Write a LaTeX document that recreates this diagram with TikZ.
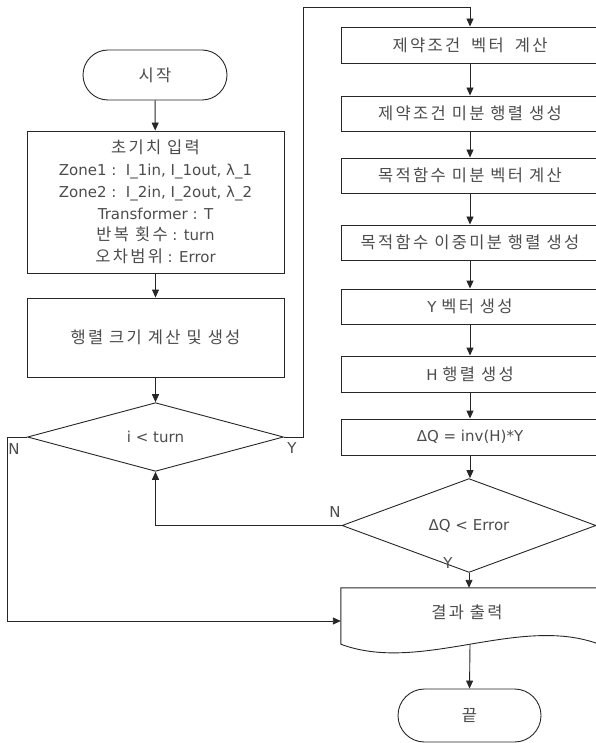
\documentclass[tikz,border=0pt]{standalone}
\usepackage{fontspec}
\setmainfont{DejaVu Sans}
\newfontfamily\kr[Scale=1.1,LetterSpace=14]{Noto Sans CJK KR}
\usetikzlibrary{arrows.meta,shapes.geometric}
\begin{document}
\begin{tikzpicture}[x=1pt,y=-1pt,
  font=\fontsize{15}{21.8}\selectfont,
  line/.style={draw=black!85, line width=0.9pt},
  conn/.style={line, -{Triangle[length=8pt,width=7pt]}},
  proc/.style={line, rectangle, inner sep=0pt, align=center, text=black!70},
  term/.style={line, rectangle, inner sep=0pt, align=center, text=black!70},
  dec/.style={line, diamond, inner sep=0pt, align=center, text=black!70},
  lbl/.style={inner sep=0pt, text=black!70}]
\useasboundingbox (0,0) rectangle (596,743);
\clip (0,0) rectangle (596,743);
% left column
\node[term, rounded corners=25pt, minimum width=144pt, minimum height=50pt] (start) at (155,75) {\kr 시작};
\node[proc, minimum width=257pt, minimum height=142pt] (input) at (155.5,202)
  {{\kr 초기치 입력}\\ Zone1 :\ \ I\_1in, I\_1out, λ\_1\\ Zone2 :\ \ I\_2in, I\_2out, λ\_2\\ Transformer : T\\ {\kr 반복 횟수} : turn\\ {\kr 오차범위} : Error};
\node[proc, minimum width=257pt, minimum height=79pt] (size) at (155.5,337.5) {\kr 행렬 크기 계산 및 생성};
\node[dec, minimum width=256pt, minimum height=52pt] (dec1) at (155.5,437) {i < turn};
% right column
\node[proc, minimum width=258pt, minimum height=36pt] (b1) at (470,45) {\kr 제약조건\hspace{0.3em} 벡터\hspace{0.3em} 계산};
\node[proc, minimum width=258pt, minimum height=35pt] (b2) at (470,113.5) {\kr 제약조건 미분 행렬 생성};
\node[proc, minimum width=258pt, minimum height=35pt] (b3) at (470,175.5) {\kr 목적함수 미분 벡터 계산};
\node[proc, minimum width=258pt, minimum height=35pt] (b4) at (470,242.5) {\kr 목적함수 이중미분 행렬 생성};
\node[proc, minimum width=258pt, minimum height=35pt] (b5) at (470,306.5) {Y {\kr 벡터 생성}};
\node[proc, minimum width=258pt, minimum height=36pt] (b6) at (470,374) {H {\kr 행렬 생성}};
\node[proc, minimum width=258pt, minimum height=36pt] (b7) at (470,437) {ΔQ = inv(H)*Y};
\node[dec, minimum width=254pt, minimum height=51pt] (dec2) at (469,525.5) {ΔQ < Error};
% output (document shape)
\node[inner sep=0pt, minimum width=258pt, minimum height=56pt] (out) at (470,616) {};
\draw[line] (out.south west) -- (out.north west) -- (out.north east) -- (out.south east)
  .. controls ([xshift=-80pt,yshift=30pt]out.south east) and ([xshift=80pt,yshift=-30pt]out.south west) .. (out.south west);
\node[lbl, text=black!70] (outtxt) at (467,612) {\kr 결과 출력};
\node[term, rounded corners=26.5pt, minimum width=143pt, minimum height=53pt] (end) at (469.5,715.5) {\kr 끝};
% connectors
\draw[conn] (start) -- (input);
\draw[conn] (input) -- (size);
\draw[conn] (size) -- (dec1);
\draw[conn] (dec1.east) -- ++(19,0) |- ([yshift=19pt]b1.north) -- (b1.north);
\draw[conn] (b1) -- (b2);
\draw[conn] (b2) -- (b3);
\draw[conn] (b3) -- (b4);
\draw[conn] (b4) -- (b5);
\draw[conn] (b5) -- (b6);
\draw[conn] (b6) -- (b7);
\draw[conn] (b7.south) -- (b7.south |- dec2.north);
\draw[conn] (dec2.west) -| (dec1.south);
\draw[conn] (dec2.south) -- (dec2.south |- out.north);
\draw[conn] (dec1.west) -- ++(-20,0) |- ([yshift=-5pt]out.west);
\draw[conn] (out.south) -- (end.north);
% labels
\node[lbl] (y1) at (292,448) {Y};
\node[lbl] (n1) at (14,449) {N};
\node[lbl] (n2) at (335,512) {N};
\node[lbl] (y2) at (448,563) {Y};
\end{tikzpicture}
\end{document}
